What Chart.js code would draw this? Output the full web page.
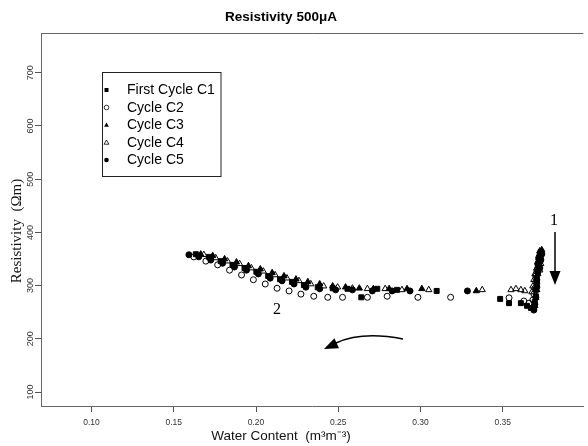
<!DOCTYPE html>
<html>
<head>
<meta charset="utf-8">
<script src="https://cdn.jsdelivr.net/npm/chart.js@4/dist/chart.umd.min.js"></script>
<style>
  body { margin: 0; background: #fff; }
  canvas { display: block; }
</style>
</head>
<body>
<canvas id="resChart" width="588" height="446"></canvas>
<script>
// tick labels
const xTicks = [0.10, 0.15, 0.20, 0.25, 0.30, 0.35];
const yTicks = [100, 200, 300, 400, 500, 600, 700];

const seriesNames = ['First Cycle C1', 'Cycle C2', 'Cycle C3', 'Cycle C4', 'Cycle C5'];

// First Cycle C1 (filled squares)
const c1X = [0.1634, 0.1713, 0.1785, 0.1857, 0.1930, 0.2002, 0.2074, 0.2146, 0.2219, 0.2291, 0.2375, 0.2466, 0.2556, 0.2640, 0.2737, 0.2857, 0.3098,
  0.3484, 0.3538, 0.3610, 0.3647, 0.3671,
  0.3689, 0.3695, 0.3701, 0.3701, 0.3707, 0.3707, 0.3713, 0.3713, 0.3719, 0.3725, 0.3731];
const c1Y = [359, 354, 346, 339, 333, 326, 318, 312, 307, 301, 297, 295, 294, 278, 294, 292, 290,
  275, 267, 267, 262, 258,
  258, 269, 280, 292, 303, 314, 326, 337, 348, 359, 363];

// Cycle C2 (open circles)
const c2X = [0.1622, 0.1695, 0.1767, 0.1839, 0.1912, 0.1984, 0.2056, 0.2128, 0.2201, 0.2273, 0.2351, 0.2436, 0.2526, 0.2677, 0.2797, 0.2984, 0.3183,
  0.3538, 0.3628, 0.3659,
  0.3683, 0.3689, 0.3695, 0.3701, 0.3701, 0.3707, 0.3713, 0.3719, 0.3725, 0.3731];
const c2Y = [354, 346, 339, 329, 320, 311, 303, 295, 290, 284, 280, 278, 278, 278, 280, 278, 278,
  277, 271, 267,
  273, 284, 295, 307, 318, 329, 341, 352, 344, 356];

// Cycle C3 (filled triangles)
const c3X = [0.1664, 0.1737, 0.1809, 0.1881, 0.1954, 0.2026, 0.2098, 0.2170, 0.2243, 0.2315, 0.2387, 0.2466, 0.2544, 0.2628, 0.2713, 0.2809, 0.2918, 0.3008, 0.3339,
  0.3695, 0.3701, 0.3707, 0.3707, 0.3713, 0.3719, 0.3719, 0.3725, 0.3731, 0.3737];
const c3Y = [359, 356, 350, 344, 337, 331, 324, 318, 312, 307, 303, 299, 297, 295, 294, 294, 294, 294, 290,
  262, 277, 292, 307, 322, 337, 352, 365, 352, 367];

// Cycle C4 (open triangles)
const c4X = [0.1683, 0.1755, 0.1827, 0.1900, 0.1972, 0.2044, 0.2116, 0.2188, 0.2261, 0.2333, 0.2411, 0.2496, 0.2586, 0.2677, 0.2785, 0.2887, 0.3050, 0.3375,
  0.3550, 0.3580, 0.3610, 0.3634,
  0.3677, 0.3683, 0.3689, 0.3695, 0.3707, 0.3713, 0.3719, 0.3725, 0.3731, 0.3737];
const c4Y = [358, 352, 346, 341, 333, 327, 320, 314, 309, 303, 299, 297, 295, 294, 294, 292, 292, 292,
  292, 294, 292, 290,
  288, 299, 311, 322, 333, 344, 356, 329, 341, 363];

// Cycle C5 (filled circles)
const c5X = [0.1592, 0.1652, 0.1725, 0.1797, 0.1869, 0.1942, 0.2014, 0.2086, 0.2158, 0.2231, 0.2303, 0.2387, 0.2484, 0.2586, 0.2707, 0.2827, 0.2936, 0.3285,
  0.3689, 0.3695, 0.3701, 0.3707, 0.3707, 0.3713, 0.3719, 0.3725, 0.3725, 0.3731, 0.3737];
const c5Y = [358, 354, 348, 342, 335, 329, 322, 314, 309, 303, 297, 294, 292, 292, 290, 290, 290, 290,
  254, 265, 278, 297, 311, 326, 344, 356, 333, 348, 359];

const symbols = [
  { style: 'rect', filled: true, r: 3.5 },
  { style: 'circle', filled: false, r: 3 },
  { style: 'triangle', filled: true, r: 3.6 },
  { style: 'triangle', filled: false, r: 3.6 },
  { style: 'circle', filled: true, r: 3 }
];

function toPoints(xs, ys) {
  return xs.map((x, i) => ({ x: x, y: ys[i] }));
}

const allX = [c1X, c2X, c3X, c4X, c5X];
const allY = [c1Y, c2Y, c3Y, c4Y, c5Y];

const datasets = seriesNames.map((name, i) => ({
  label: name,
  data: toPoints(allX[i], allY[i]),
  pointStyle: symbols[i].style,
  pointRadius: symbols[i].r,
  pointHoverRadius: symbols[i].r,
  pointBorderWidth: 1,
  borderColor: '#000',
  backgroundColor: symbols[i].filled ? '#000' : 'rgba(0,0,0,0)',
  showLine: false,
  order: 5 - i
}));

// small symbol for the legend box
function drawSymbol(ctx, sym, x, y, r) {
  ctx.beginPath();
  if (sym.style === 'rect') {
    ctx.rect(x - r, y - r, 2 * r, 2 * r);
  } else if (sym.style === 'circle') {
    ctx.arc(x, y, r, 0, Math.PI * 2);
  } else {
    ctx.moveTo(x, y - r * 1.1);
    ctx.lineTo(x + r * 1.05, y + r * 0.75);
    ctx.lineTo(x - r * 1.05, y + r * 0.75);
    ctx.closePath();
  }
  if (sym.filled) {
    ctx.fillStyle = '#000';
    ctx.fill();
  } else {
    ctx.strokeStyle = '#000';
    ctx.lineWidth = 0.8;
    ctx.stroke();
  }
}

function arrowHead(ctx, tipX, tipY, dx, dy, len, half) {
  const d = Math.sqrt(dx * dx + dy * dy);
  const ux = dx / d, uy = dy / d;
  const bx = tipX - ux * len, by = tipY - uy * len;
  ctx.beginPath();
  ctx.moveTo(tipX, tipY);
  ctx.lineTo(bx - uy * half, by + ux * half);
  ctx.lineTo(bx + uy * half, by - ux * half);
  ctx.closePath();
  ctx.fill();
}

const extras = {
  id: 'extras',
  afterDraw(chart) {
    const ctx = chart.ctx;
    const area = chart.chartArea;
    ctx.save();

    // top line of the box
    ctx.strokeStyle = '#666';
    ctx.lineWidth = 1;
    ctx.beginPath();
    ctx.moveTo(area.left, area.top + 0.5);
    ctx.lineTo(area.right, area.top + 0.5);
    ctx.stroke();

    // title
    ctx.fillStyle = '#000';
    ctx.font = 'bold 13.5px Arial, "Liberation Sans", sans-serif';
    ctx.textAlign = 'center';
    ctx.textBaseline = 'middle';
    ctx.fillText('Resistivity 500\u03bcA', 281, 17.5);

    // axis titles
    ctx.fillStyle = '#111';
    ctx.font = '13.5px Arial, "Liberation Sans", sans-serif';
    ctx.fillText('Water Content  (m\u00b3m\u207b\u00b3)', 281, 436);
    ctx.save();
    ctx.translate(17, 231);
    ctx.rotate(-Math.PI / 2);
    ctx.font = '15px "Liberation Serif", "Times New Roman", serif';
    ctx.fillText('Resistivity  (\u03a9m)', 0, 0);
    ctx.restore();

    // legend
    ctx.strokeStyle = '#222';
    ctx.lineWidth = 1;
    ctx.strokeRect(102.5, 72.5, 118.5, 104);
    ctx.font = '14px Arial, "Liberation Sans", sans-serif';
    ctx.textAlign = 'left';
    seriesNames.forEach((name, i) => {
      const y = 90 + i * 17.5;
      drawSymbol(ctx, symbols[i], 106.5, y, symbols[i].style === 'rect' ? 2 : 2.3);
      ctx.fillStyle = '#000';
      ctx.fillText(name, 127, y + 0.5);
    });

    // annotations
    ctx.fillStyle = '#000';
    ctx.font = '16px "Liberation Serif", "Times New Roman", serif';
    ctx.textAlign = 'center';
    ctx.fillText('1', 554, 221);
    ctx.fillText('2', 277, 310);

    ctx.strokeStyle = '#000';
    ctx.lineWidth = 1.5;
    ctx.beginPath();
    ctx.moveTo(555, 232);
    ctx.lineTo(555, 273);
    ctx.stroke();
    arrowHead(ctx, 555, 285, 0, 1, 14, 5.5);

    ctx.beginPath();
    ctx.moveTo(403, 339);
    ctx.quadraticCurveTo(362, 331, 336, 343);
    ctx.stroke();
    arrowHead(ctx, 324, 349, -13, 6, 14, 5.5);

    ctx.restore();
  }
};

const ctx = document.getElementById('resChart').getContext('2d');
const resChart = new Chart(ctx, {
  type: 'scatter',
  data: { datasets: datasets },
  options: {
    responsive: false,
    animation: false,
    events: [],
    layout: { padding: { top: 33, left: 0, right: 0, bottom: 0 } },
    plugins: {
      legend: { display: false },
      tooltip: { enabled: false },
      title: { display: false }
    },
    scales: {
      x: {
        type: 'linear',
        min: 0.0693,
        max: 0.399,
        afterBuildTicks: (scale) => { scale.ticks = xTicks.map(v => ({ value: v })); },
        afterFit: (scale) => { scale.height = 40; },
        ticks: {
          autoSkip: false,
          maxRotation: 0,
          padding: 6,
          color: '#333',
          font: { size: 8.5, family: 'Arial, "Liberation Sans", sans-serif' },
          callback: (v) => Number(v).toFixed(2)
        },
        grid: { drawOnChartArea: false, drawTicks: true, tickLength: 6, color: '#555' },
        border: { display: true, color: '#666', width: 1 }
      },
      y: {
        type: 'linear',
        min: 73.7,
        max: 774.8,
        afterBuildTicks: (scale) => { scale.ticks = yTicks.map(v => ({ value: v })); },
        afterFit: (scale) => { scale.width = 41; },
        ticks: {
          autoSkip: false,
          minRotation: 90,
          maxRotation: 90,
          crossAlign: 'center',
          padding: -3.5,
          color: '#333',
          font: { size: 9, family: 'Arial, "Liberation Sans", sans-serif' }
        },
        grid: { drawOnChartArea: false, drawTicks: true, tickLength: 6, color: '#555' },
        border: { display: true, color: '#666', width: 1 }
      }
    }
  },
  plugins: [extras]
});
</script>
</body>
</html>
